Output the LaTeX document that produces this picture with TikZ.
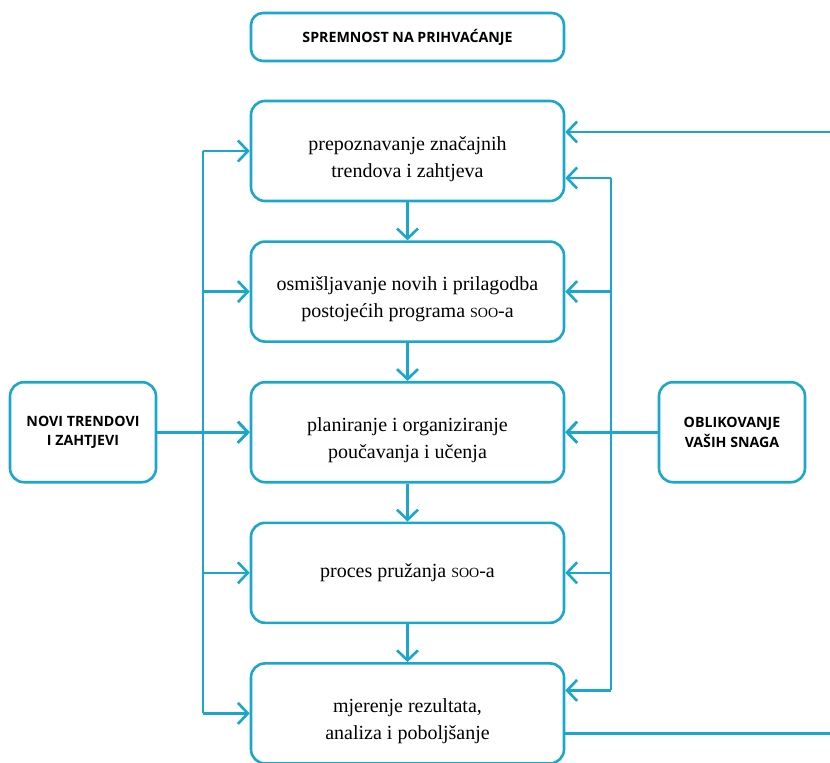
\documentclass[tikz,border=0pt]{standalone}
\usepackage{fontspec}
\setmainfont{Liberation Serif}
\newfontfamily\labelfont{Open Sans}
\newcommand{\soo}{{\fontsize{14}{14}\selectfont SOO}}
\usetikzlibrary{arrows.meta,positioning}
\definecolor{linecyan}{RGB}{27,167,203}
\begin{document}
\begin{tikzpicture}[x=1pt,y=-1pt,node distance=38pt,
box/.style={draw=linecyan,line width=2.6pt,rounded corners=14pt,minimum width=313pt,minimum height=100pt,align=center,font=\fontsize{20}{27}\selectfont},
twoline/.style={text height=52pt,text depth=0pt},
side/.style={box,minimum width=146pt,font=\labelfont\bfseries\fontsize{14.2}{19.5}\selectfont},
conn/.style={linecyan,line width=2.6pt},
arr/.style={conn,-{Straight Barb[length=10pt,width=21pt]}}]
\useasboundingbox (0,0) rectangle (830,763);
\node[box,minimum height=48pt,rounded corners=12pt,font=\labelfont\bfseries\fontsize{14.2}{16}\selectfont] (top) at (407.5,37) {SPREMNOST NA PRIHVAĆANJE};
\node[box,twoline] (b1) at (407.5,151) {prepoznavanje značajnih\\trendova i zahtjeva};
\node[box,twoline,below=of b1] (b2) {osmišljavanje novih i prilagodba\\postojećih programa \soo-a};
\node[box,twoline,below=of b2] (b3) {planiranje i organiziranje\\poučavanja i učenja};
\node[box,below=of b3] (b4) {proces pružanja \soo-a};
\node[box,twoline,below=of b4] (b5) {mjerenje rezultata,\\analiza i poboljšanje};
\node[side] (novi) at (b3 -| 83,0) {NOVI TRENDOVI\\I ZAHTJEVI};
\node[side] (snage) at (b3 -| 732,0) {OBLIKOVANJE\\VAŠIH SNAGA};
% down the middle
\foreach \a/\b in {b1/b2,b2/b3,b3/b4,b4/b5}
  \draw[arr] (\a.south) -- (\b.north);
% left spine
\coordinate (lsp) at (203,0);
\draw[conn] (lsp |- b1.west) -- (lsp |- b5.west);
\foreach \b in {b1,b2,b3,b4,b5}
  \draw[arr] (lsp |- \b.west) -- (\b.west);
\draw[arr] (novi.east) -- (b3.west);
% right spine
\coordinate (rsp) at (611,0);
\path ([yshift=-27pt]b1.east) coordinate (r1) ([yshift=23pt]b5.east) coordinate (r5);
\draw[conn] (rsp |- r1) -- (rsp |- r5);
\foreach \p in {r1,b2.east,b3.east,b4.east,r5}
  \draw[arr] (rsp |- \p) -- (\p);
\draw[arr] (snage.west) -- (b3.east);
% feedback in and out
\coordinate (fbin) at (830,132);
\path ([yshift=-20pt]b5.east) coordinate (out5);
\draw[arr] (fbin) -- (fbin -| b1.east);
\draw[conn] (out5) -- (out5 -| fbin);
\end{tikzpicture}
\end{document}
